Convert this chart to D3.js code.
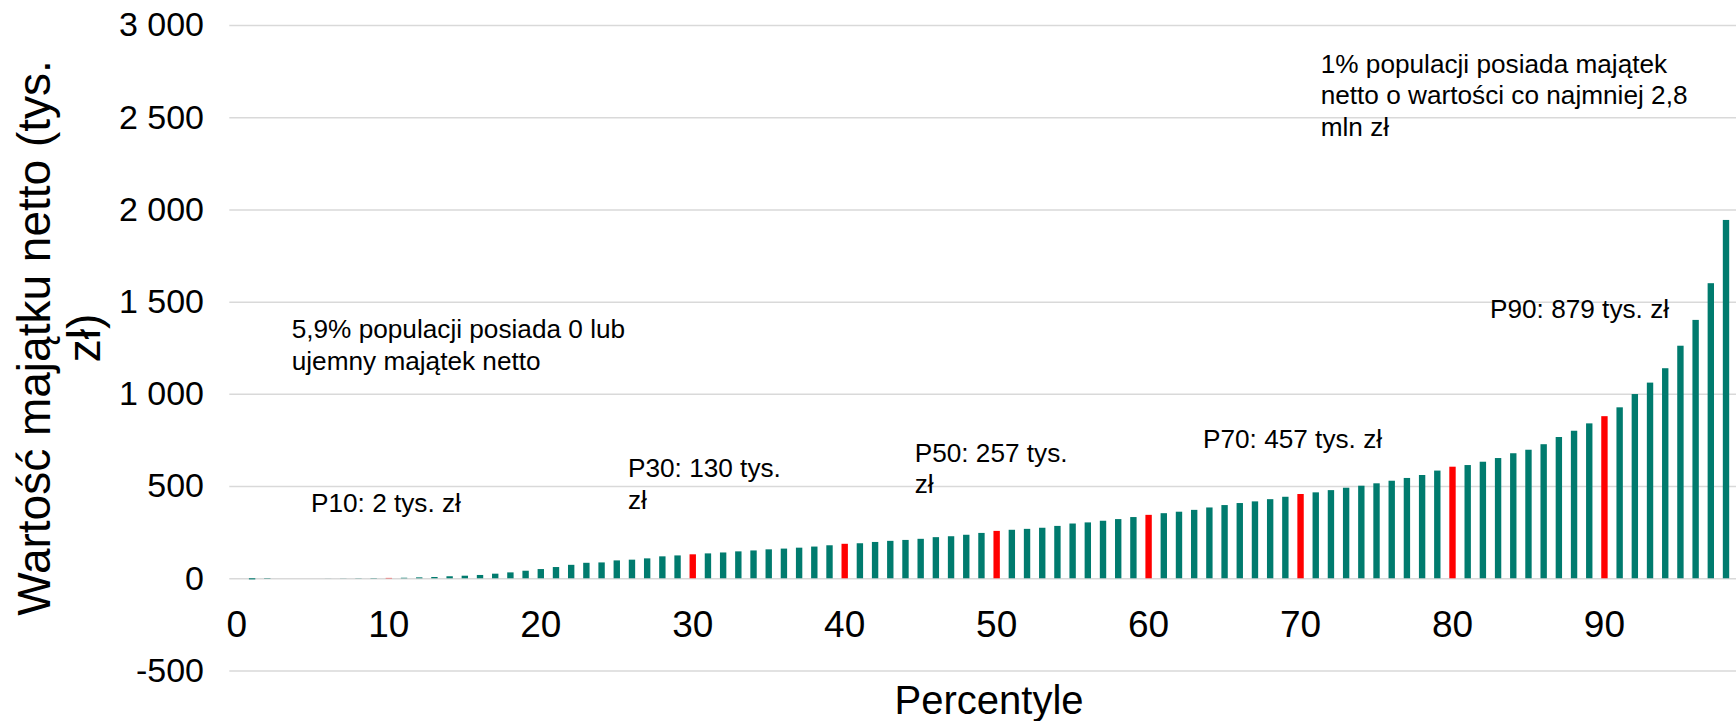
<!DOCTYPE html>
<meta charset="utf-8">
<style>

body {
  margin: 0;
  background: #fff;
}

svg {
  display: block;
  font-family: "Liberation Sans", Arial, sans-serif;
}

.grid line {
  stroke: #d9d9d9;
  stroke-width: 1.5;
}

.grid path,
.axis path,
.axis line {
  display: none;
}

.axis text {
  font-family: "Liberation Sans", Arial, sans-serif;
  fill: #000;
}

.y.axis text {
  font-size: 34px;
}

.x.axis text {
  font-size: 37px;
}

.note {
  font-size: 26.2px;
  fill: #000;
}

.title {
  fill: #000;
}

</style>
<body>
<script src="https://d3js.org/d3.v7.min.js"></script>
<script>

var width = 1736,
    height = 721;

// percentiles 0..99, net wealth in thousands PLN
var percentiles = d3.range(0, 100);

var wealth = [
  0, -6, -2, 0, 0, 0, 0.3, 0.6, 1, 1.5,
  2, 3, 5, 7, 11, 14, 18, 25, 32, 41,
  50, 61, 73, 84, 86, 97, 101, 108, 119, 124,
  130, 135, 140, 146, 151, 157, 161, 166, 172, 179,
  187, 190, 197, 203, 208, 214, 223, 228, 236, 246,
  257, 263, 268, 274, 284, 297, 303, 312, 321, 332,
  344, 353, 361, 371, 384, 397, 408, 417, 429, 442,
  457, 466, 478, 491, 502, 515, 529, 544, 560, 584,
  605, 614, 632, 652, 678, 697, 727, 766, 800, 840,
  879, 927, 999, 1061, 1139, 1261, 1401, 1600, 1943, 2800
];

var highlighted = [10, 30, 40, 50, 60, 70, 80, 90];

var xTickValues = [0, 10, 20, 30, 40, 50, 60, 70, 80, 90];
var yTickValues = [-500, 0, 500, 1000, 1500, 2000, 2500, 3000];

var yTitleLines = ["Wartość majątku netto (tys.", "zł)"];
var xTitle = "Percentyle";

var noteLines = [
  ["1% populacji posiada majątek", "netto o wartości co najmniej 2,8", "mln zł"],
  ["5,9% populacji posiada 0 lub", "ujemny majątek netto"],
  ["P10: 2 tys. zł"],
  ["P30: 130 tys.", "zł"],
  ["P50: 257 tys.", "zł"],
  ["P70: 457 tys. zł"],
  ["P90: 879 tys. zł"]
];

var plotLeft = 229.3,
    plotRight = 1748.8,
    plotTop = 25,
    plotBottom = 670.5;

var pl = d3.formatLocale({decimal: ",", thousands: " ", grouping: [3], currency: ["", " zł"], minus: "-"});
var fmt = pl.format(",d");

var x = d3.scaleBand()
    .domain(percentiles)
    .range([plotLeft, plotRight])
    .paddingInner(0.58)
    .paddingOuter(0.29);

var y = d3.scaleLinear()
    .domain([-500, 3000])
    .range([plotBottom, plotTop]);

var svg = d3.select("body").append("svg")
    .attr("width", width)
    .attr("height", height);

// gridlines
svg.append("g")
    .attr("class", "grid")
    .attr("transform", "translate(" + plotLeft + ",0)")
    .call(d3.axisLeft(y).tickValues(yTickValues).tickSize(-(plotRight - plotLeft)).tickFormat(""));

// y axis labels
svg.append("g")
    .attr("class", "y axis")
    .attr("transform", "translate(204,0)")
    .call(d3.axisLeft(y).tickValues(yTickValues).tickSize(0).tickPadding(0).tickFormat(fmt));

// x axis labels
svg.append("g")
    .attr("class", "x axis")
    .attr("transform", "translate(0," + y(0) + ")")
    .call(d3.axisBottom(x).tickValues(xTickValues).tickSize(0).tickPadding(32));

// bars
svg.append("g")
    .selectAll("rect")
    .data(percentiles)
  .enter().append("rect")
    .attr("x", function(d) { return x(d); })
    .attr("width", x.bandwidth())
    .attr("y", function(d) { return y(Math.max(0, wealth[d])); })
    .attr("height", function(d) { return Math.abs(y(wealth[d]) - y(0)); })
    .attr("fill", function(d) { return highlighted.indexOf(d) >= 0 ? "#ff0000" : "#007b6e"; });

// axis titles
var yTitle = svg.append("text")
    .attr("class", "title")
    .attr("transform", "translate(50,338) rotate(-90)")
    .attr("text-anchor", "middle")
    .style("font-size", "46px");

yTitle.selectAll("tspan")
    .data(yTitleLines)
  .enter().append("tspan")
    .attr("x", 0)
    .attr("y", function(d, i) { return i * 50; })
    .text(function(d) { return d; });

svg.append("text")
    .attr("class", "title")
    .attr("x", (plotLeft + plotRight) / 2)
    .attr("y", 714)
    .attr("text-anchor", "middle")
    .style("font-size", "40px")
    .text(xTitle);

// annotations: start of first baseline, in px
var notePos = [
  [1320.7, 72.7],
  [291.7, 338],
  [311, 512],
  [628, 477.3],
  [914.7, 461.7],
  [1203, 448.3],
  [1490, 318.3]
];

svg.append("g")
    .selectAll("text")
    .data(noteLines)
  .enter().append("text")
    .attr("class", "note")
    .each(function(lines, i) {
      d3.select(this).selectAll("tspan")
          .data(lines)
        .enter().append("tspan")
          .attr("x", notePos[i][0])
          .attr("y", function(d, j) { return notePos[i][1] + j * 31.5; })
          .text(function(d) { return d; });
    });

</script>
